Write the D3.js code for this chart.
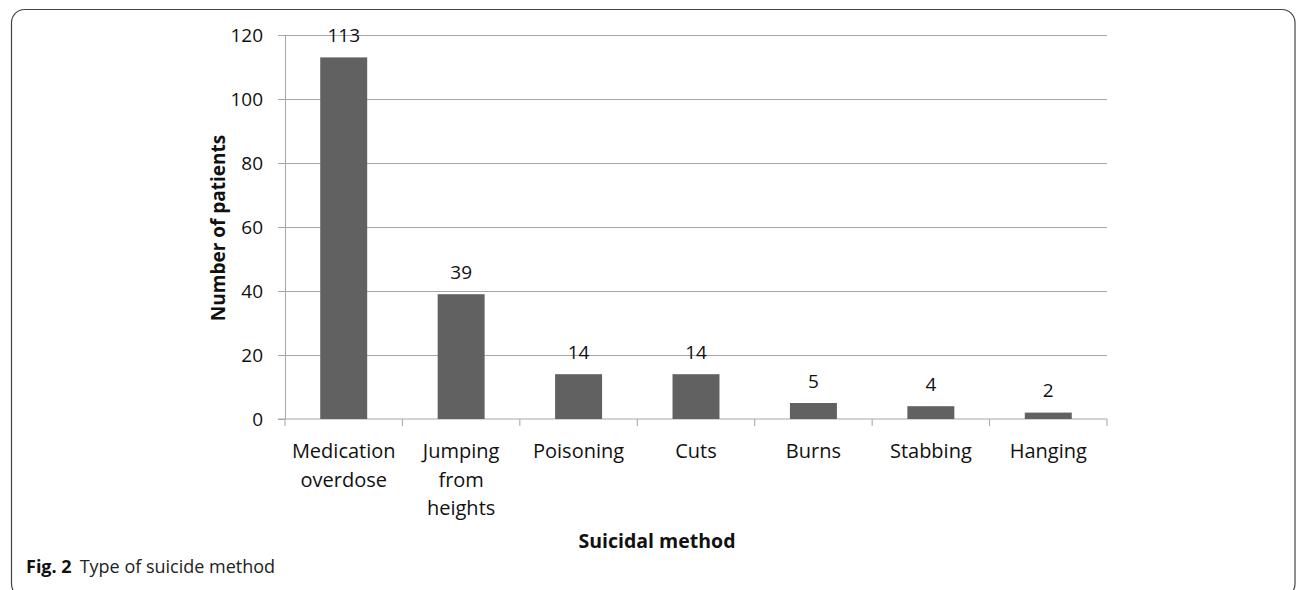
<!DOCTYPE html>
<html>
<head>
<meta charset="utf-8">
<script src="https://cdn.jsdelivr.net/npm/d3@7"></script>
<style>
  body { margin: 0; background: #fff; }
  svg text { font-family: "Open Sans", "Liberation Sans", sans-serif; fill: #111; }
</style>
</head>
<body>
<div id="chart"></div>
<script>
// data
var methods = ["Medication overdose", "Jumping from heights", "Poisoning", "Cuts", "Burns", "Stabbing", "Hanging"];
var methodLines = [["Medication", "overdose"], ["Jumping", "from", "heights"], ["Poisoning"], ["Cuts"], ["Burns"], ["Stabbing"], ["Hanging"]];
var patients = [113, 39, 14, 14, 5, 4, 2];
var yTicks = [0, 20, 40, 60, 80, 100, 120];

var W = 1296, H = 590;
var margin = {top: 35, right: 189, bottom: 171, left: 285},
    width = W - margin.left - margin.right,
    height = H - margin.top - margin.bottom;

var svg = d3.select("#chart")
  .append("svg")
    .attr("width", W)
    .attr("height", H);

// figure frame (rounded box, bottom edge runs just past the picture)
svg.append("rect")
  .attr("x", 11.5).attr("y", 9.5)
  .attr("width", 1295 - 11.5).attr("height", 597 - 9.5)
  .attr("rx", 13).attr("ry", 13)
  .attr("fill", "none")
  .attr("stroke", "#444")
  .attr("stroke-width", 1.2);

var g = svg.append("g")
  .attr("transform", "translate(" + margin.left + "," + margin.top + ")");

var x = d3.scaleBand()
  .domain(methods)
  .range([0, width])
  .paddingInner(0.6)
  .paddingOuter(0.3);

var xEdge = d3.scaleBand()
  .domain(methods)
  .range([0, width]);

var y = d3.scaleLinear()
  .domain([0, 120])
  .range([height, 0]);

// gridlines
g.append("g")
  .selectAll("line")
  .data(yTicks.slice(1))
  .enter()
  .append("line")
    .attr("x1", 0).attr("x2", width)
    .attr("y1", function(d) { return Math.round(y(d)) + 0.5; })
    .attr("y2", function(d) { return Math.round(y(d)) + 0.5; })
    .attr("stroke", "#a6a6a6")
    .attr("stroke-width", 1);

// Y axis
var yAxis = g.append("g")
  .call(d3.axisLeft(y).tickValues(yTicks).tickSize(7).tickPadding(15));
yAxis.select(".domain").attr("stroke", "#a6a6a6");
yAxis.selectAll(".tick line").attr("stroke", "#a6a6a6");
yAxis.selectAll(".tick text")
  .style("font-size", "19px")
  .attr("dy", "0.36em");

// X axis baseline and tick marks at category edges
var xAxisG = g.append("g").attr("transform", "translate(0," + height + ")");
xAxisG.append("line")
  .attr("x1", -7).attr("x2", width)
  .attr("stroke", "#a6a6a6");
xAxisG.selectAll(".edge")
  .data(methods.map(function(m) { return xEdge(m); }).concat([width]))
  .enter()
  .append("line")
    .attr("class", "edge")
    .attr("x1", function(d) { return d; })
    .attr("x2", function(d) { return d; })
    .attr("y1", 0).attr("y2", 7)
    .attr("stroke", "#a6a6a6");

// category labels
methods.forEach(function(m, i) {
  var t = xAxisG.append("text")
    .attr("x", xEdge(m) + xEdge.bandwidth() / 2)
    .attr("y", 39)
    .attr("text-anchor", "middle")
    .style("font-size", "20px");
  methodLines[i].forEach(function(line, j) {
    t.append("tspan")
      .attr("x", xEdge(m) + xEdge.bandwidth() / 2)
      .attr("dy", j === 0 ? 0 : 28.5)
      .text(line);
  });
});

// Bars
g.selectAll("rect.bar")
  .data(patients)
  .enter()
  .append("rect")
    .attr("class", "bar")
    .attr("x", function(d, i) { return x(methods[i]); })
    .attr("width", x.bandwidth())
    .attr("y", function(d) { return y(d); })
    .attr("height", function(d) { return height - y(d); })
    .attr("fill", "#616161");

// value labels
g.selectAll("text.val")
  .data(patients)
  .enter()
  .append("text")
    .attr("class", "val")
    .attr("x", function(d, i) { return x(methods[i]) + x.bandwidth() / 2; })
    .attr("y", function(d) { return y(d) - 15.5; })
    .attr("text-anchor", "middle")
    .style("font-size", "19px")
    .text(function(d) { return d; });

// axis titles
svg.append("text")
  .attr("transform", "translate(225," + (margin.top + height / 2 + 1) + ") rotate(-90)")
  .attr("text-anchor", "middle")
  .style("font-size", "19px")
  .style("font-weight", "bold")
  .text("Number of patients");

svg.append("text")
  .attr("x", 657)
  .attr("y", 548)
  .attr("text-anchor", "middle")
  .style("font-size", "19.5px")
  .style("font-weight", "bold")
  .text("Suicidal method");

// caption
var cap = svg.append("text")
  .attr("x", 26)
  .attr("y", 573)
  .style("font-size", "18px");
cap.append("tspan").style("font-weight", "bold").text("Fig. 2");
cap.append("tspan").attr("dx", 8).style("fill", "#222").text("Type of suicide method");
</script>
</body>
</html>
